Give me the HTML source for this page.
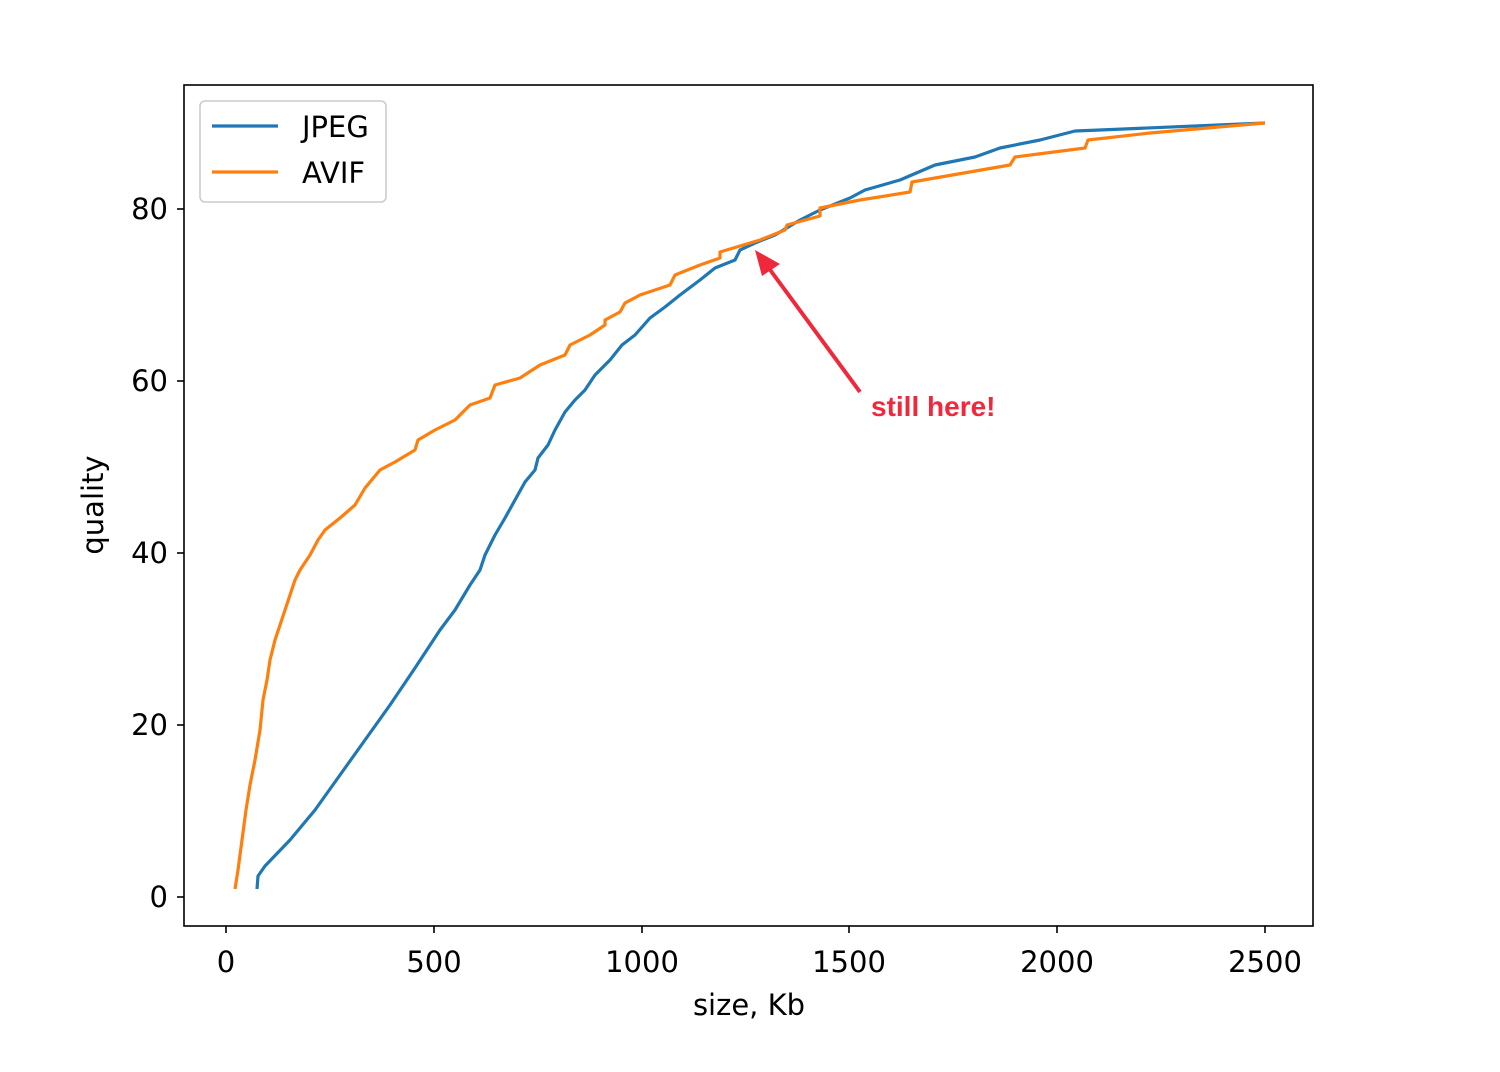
<!DOCTYPE html>
<html><head><meta charset="utf-8"><style>
html,body{margin:0;padding:0;background:#fff;}
svg{display:block;font-family:"DejaVu Sans","Liberation Sans",sans-serif;}
</style></head><body>
<svg width="1500" height="1072" viewBox="0 0 1500 1072">
<rect width="1500" height="1072" fill="#fff"/>
<g stroke="#000" stroke-width="1.6">
<line x1="226" y1="926" x2="226" y2="933"/><line x1="434" y1="926" x2="434" y2="933"/><line x1="642" y1="926" x2="642" y2="933"/><line x1="849" y1="926" x2="849" y2="933"/><line x1="1057" y1="926" x2="1057" y2="933"/><line x1="1265" y1="926" x2="1265" y2="933"/>
<line x1="177" y1="897" x2="184" y2="897"/><line x1="177" y1="725" x2="184" y2="725"/><line x1="177" y1="553" x2="184" y2="553"/><line x1="177" y1="381" x2="184" y2="381"/><line x1="177" y1="209" x2="184" y2="209"/>
</g>
<g font-size="29" fill="#000" text-anchor="middle">
<text x="226" y="972">0</text><text x="434" y="972">500</text><text x="642" y="972">1000</text><text x="849" y="972">1500</text><text x="1057" y="972">2000</text><text x="1265" y="972">2500</text>
<text x="749" y="1015">size, Kb</text>
</g>
<g font-size="29" fill="#000" text-anchor="end">
<text x="168" y="907">0</text><text x="168" y="735">20</text><text x="168" y="563">40</text><text x="168" y="391">60</text><text x="168" y="219">80</text>
</g>
<text x="103" y="505" font-size="29" text-anchor="middle" transform="rotate(-90 103 505)">quality</text>
<polyline fill="none" stroke="#1f77b4" stroke-width="3.2" stroke-linejoin="round" points="257,889 258,876 265,866 290,840 315,810 340,775 365,740 390,705 415,668 440,630 455,610 470,585 480,570 485,555 495,535 505,518 515,500 525,482 535,470 538,458 548,445 555,430 565,412 575,400 585,390 595,375 610,360 622,345 635,335 650,318 665,307 680,295 700,280 715,268 735,260 740,250 755,243 775,235 800,220 820,210 850,198 865,190 900,180 935,165 975,157 1000,148 1040,140 1075,131 1100,130 1265,123"/>
<polyline fill="none" stroke="#ff7f0e" stroke-width="3.2" stroke-linejoin="round" points="235,889 238,870 242,840 246,810 250,785 255,760 260,730 263,700 267,680 270,660 275,640 280,625 285,610 290,595 295,580 300,570 310,555 318,540 325,530 340,518 355,505 365,488 380,470 395,462 415,450 418,440 435,430 455,420 470,405 490,398 495,385 520,378 540,365 565,355 570,345 590,335 605,325 605,320 620,312 625,303 640,295 670,285 675,275 700,265 720,258 720,252 760,240 785,230 787,225 820,216 820,208 860,200 910,192 912,182 1010,165 1015,157 1085,148 1088,140 1150,133 1265,123"/>
<rect x="184" y="85" width="1129" height="841" fill="none" stroke="#000" stroke-width="1.6"/>
<rect x="200" y="101" width="186" height="101" rx="5" fill="#fff" fill-opacity="0.8" stroke="#ccc" stroke-width="1.6"/>
<line x1="212" y1="126" x2="278" y2="126" stroke="#1f77b4" stroke-width="3.2"/>
<line x1="212" y1="172" x2="278" y2="172" stroke="#ff7f0e" stroke-width="3.2"/>
<text x="302" y="137" font-size="29">JPEG</text>
<text x="302" y="183" font-size="29">AVIF</text>
<line x1="860" y1="392" x2="768" y2="267" stroke="#f0283c" stroke-width="4"/>
<polygon points="755,250 780,264 762,276" fill="#f0283c"/>
<text x="871" y="416" font-size="28" font-weight="bold" fill="#f0283c" font-family="Liberation Sans, sans-serif">still here!</text>
</svg>
</body></html>
